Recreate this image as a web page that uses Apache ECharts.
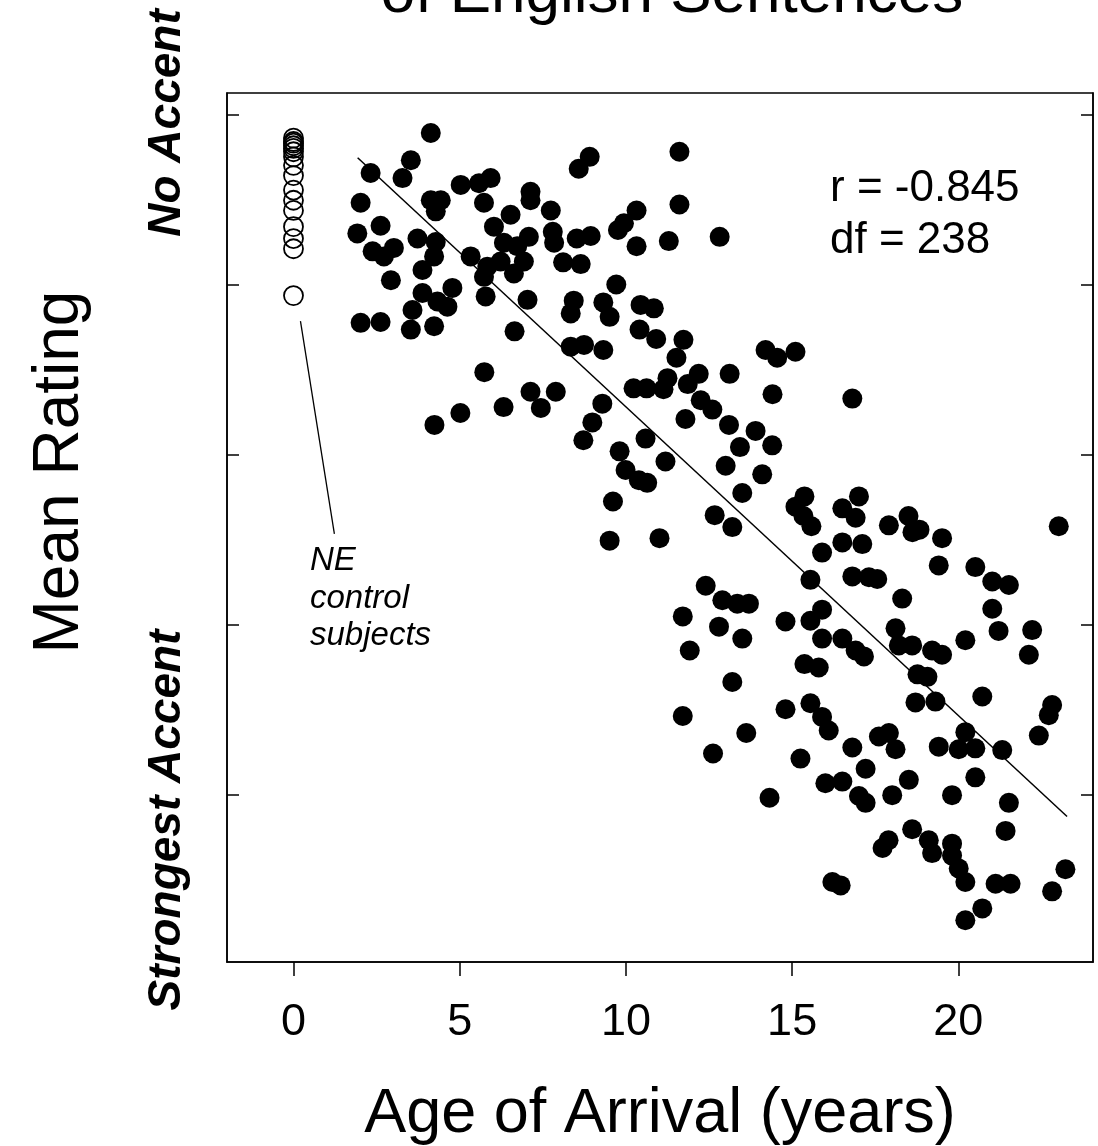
<!DOCTYPE html>
<html>
<head>
<meta charset="utf-8">
<script src="https://cdn.jsdelivr.net/npm/echarts@6/dist/echarts.min.js"></script>
<style>
html,body{margin:0;padding:0;background:#fff;}
#chart{width:1098px;height:1146px;}
</style>
</head>
<body>
<div id="chart"></div>
<script>
// Non-native speakers: age of arrival (years)
const ageNNS = [
4.13,3.53,3.28,2.32,5.03,2.02,4.13,4.43,4.28,2.62,1.92,3.73,4.28,2.38,2.72,3.02,4.23,5.33,3.88,2.93,4.78,3.88,4.33,4.63,3.58,2.02,2.62,3.53,4.23,4.24,5.02,
5.93,5.58,5.73,7.13,7.13,6.53,7.74,6.03,7.80,7.84,7.08,6.33,6.73,6.93,5.83,6.23,6.63,5.73,5.78,7.04,6.65,5.74,6.32,7.13,7.44,7.89,8.11,8.52,
8.91,8.58,11.61,11.61,10.32,9.94,9.76,11.29,12.82,10.32,8.94,8.64,9.71,8.43,8.34,9.32,9.51,10.44,10.84,10.41,10.91,11.73,11.52,8.34,8.74,9.32,
14.20,14.55,15.10,13.12,12.19,11.86,11.25,11.13,10.23,10.62,12.25,12.60,14.41,9.29,8.99,8.72,11.79,10.59,13.10,13.90,13.43,14.40,9.81,11.19,
9.99,10.39,10.64,13.00,14.10,13.50,9.61,15.37,15.10,15.34,15.58,12.67,13.20,9.51,11.01,15.55,12.40,12.90,13.35,13.70,11.71,12.80,14.80,15.55,
13.50,11.92,15.37,15.80,13.20,11.71,13.62,12.62,14.80,15.55,15.25,14.32,16.81,
23.02,17.01,16.51,16.91,17.91,18.50,18.62,18.83,19.51,16.51,17.11,15.90,19.41,20.51,21.02,21.52,16.81,17.31,17.56,18.31,21.02,15.90,18.11,
21.21,22.22,22.12,20.21,15.90,16.51,16.91,17.16,18.21,18.61,19.21,19.51,18.77,19.07,20.72,22.82,22.72,22.42,15.90,16.10,18.71,19.31,16.81,
17.61,17.91,18.11,19.41,20.21,20.01,20.51,21.32,17.21,16.00,16.51,17.01,17.21,18.01,18.51,19.81,20.51,21.52,21.42,18.61,19.11,19.21,19.81,
19.81,17.90,17.72,20.01,20.21,21.12,21.57,16.21,16.46,20.72,20.21,23.22,22.82
];
// Non-native speakers: mean accent rating
const ratingNNS = [
8.78,8.46,8.25,8.31,8.17,7.96,7.99,7.99,7.86,7.69,7.60,7.54,7.50,7.39,7.33,7.43,7.33,7.33,7.17,7.05,6.96,6.90,6.80,6.74,6.70,6.55,6.56,6.47,6.51,5.35,5.49,
8.25,8.19,7.96,8.09,7.99,7.82,7.87,7.68,7.62,7.49,7.56,7.49,7.45,7.27,7.21,7.27,7.13,7.09,6.86,6.82,6.45,5.97,5.56,5.74,5.55,5.74,7.26,7.54,
8.50,8.36,8.56,7.94,7.87,7.72,7.64,7.51,7.56,7.45,7.57,7.24,7.00,6.81,6.66,6.79,6.62,6.76,6.72,6.47,6.36,6.35,6.14,6.27,6.29,6.23,
6.23,6.14,6.21,5.95,5.95,5.83,5.90,5.77,5.78,5.78,5.64,5.53,5.71,5.60,5.38,5.17,5.42,5.19,5.35,5.28,5.09,5.11,5.04,4.92,
4.82,4.70,4.67,4.87,4.77,4.55,4.45,4.51,4.39,4.28,4.16,4.29,4.15,3.99,4.02,3.53,3.46,3.29,3.25,3.25,3.10,2.98,3.04,3.05,
2.84,2.70,2.54,2.50,2.33,1.93,1.73,1.49,2.01,2.08,1.43,0.97,5.66,
4.16,4.51,4.37,4.26,4.17,4.28,4.09,4.12,4.02,3.97,3.95,3.85,3.70,3.68,3.51,3.47,3.57,3.56,3.54,3.31,3.19,3.18,2.96,
2.93,2.94,2.65,2.82,2.84,2.84,2.70,2.63,2.76,2.76,2.70,2.65,2.42,2.39,2.16,2.06,1.94,1.70,1.92,1.76,2.09,2.10,1.56,
1.69,1.73,1.54,1.57,1.74,1.54,1.55,1.53,1.31,1.14,1.16,0.99,0.91,1.00,1.18,1.00,1.21,0.91,0.58,0.60,0.47,0.32,0.43,
0.29,0.47,0.38,0.14,-0.02,-0.04,-0.04,-0.02,-0.06,-0.33,-0.47,0.13,-0.13
];
// Native English (NE) control subjects
const ageNE = [0,0,0,0,0,0,0,0,0,0,0,0,0,0,0,0];
const ratingNE = [8.72,8.68,8.66,8.63,8.60,8.56,8.50,8.40,8.28,8.11,7.99,7.87,7.68,7.54,7.42,6.87];
// Regression line end points
const fitAge = [1.93, 23.27];
const fitRating = [8.49, 0.75];
// Leader line from the controls to their label
const leaderAge = [0.21, 1.23];
const leaderRating = [6.57, 4.07];
// Axis ticks
const xTicks = [0, 5, 10, 15, 20];
const yTicks = [1, 3, 5, 7, 9];

const FONT = "'Liberation Sans', Arial, Helvetica, sans-serif";
const zip = (a, b) => a.map((v, i) => [v, b[i]]);

const chart = echarts.init(document.getElementById('chart'), null, {renderer: 'canvas'});

const yAxisBase = {
  type: 'value', min: -0.96, max: 9.25,
  axisLine: {show: true, onZero: false, lineStyle: {color: '#000', width: 1.5}},
  axisTick: {show: true, inside: true, length: 12, customValues: yTicks, lineStyle: {color: '#000', width: 1.5}},
  axisLabel: {show: false},
  splitLine: {show: false}
};

chart.setOption({
  animation: false,
  backgroundColor: '#fff',
  grid: {left: 227, right: 5, top: 93, bottom: 184, show: true, borderColor: '#000', borderWidth: 1.5,
         containLabel: false, outerBoundsMode: 'none'},
  xAxis: {
    type: 'value', min: -2, max: 24.05,
    axisLine: {show: true, onZero: false, lineStyle: {color: '#000', width: 1.5}},
    axisTick: {show: true, inside: false, length: 14, customValues: xTicks, lineStyle: {color: '#000', width: 1.5}},
    axisLabel: {show: true, customValues: xTicks, color: '#000', fontFamily: FONT, fontSize: 45, margin: 38},
    splitLine: {show: false},
    name: 'Age of Arrival (years)', nameLocation: 'middle', nameGap: 121,
    nameTextStyle: {color: '#000', fontFamily: FONT, fontSize: 63}
  },
  yAxis: [
    Object.assign({position: 'left'}, yAxisBase),
    Object.assign({position: 'right'}, yAxisBase)
  ],
  series: [
    {
      type: 'line', data: zip(fitAge, fitRating), symbol: 'none',
      lineStyle: {color: '#000', width: 1.5}, silent: true, z: 1
    },
    {
      type: 'line', data: zip(leaderAge, leaderRating), symbol: 'none',
      lineStyle: {color: '#000', width: 1.3}, silent: true, z: 1
    },
    {
      type: 'scatter', data: zip(ageNNS, ratingNNS), symbol: 'circle', symbolSize: 20,
      itemStyle: {color: '#000', opacity: 1}, z: 3
    },
    {
      type: 'scatter', data: zip(ageNE, ratingNE), symbol: 'circle', symbolSize: 19,
      itemStyle: {color: 'rgba(255,255,255,0)', borderColor: '#000', borderWidth: 1.8, opacity: 1}, z: 3
    }
  ],
  graphic: [
    {type: 'text', x: 672, y: 26, style: {text: 'of English Sentences', font: '62px ' + FONT, fill: '#000', textAlign: 'center', textVerticalAlign: 'bottom'}},
    {type: 'text', x: 60, y: 472, rotation: Math.PI / 2, style: {text: 'Mean Rating', font: '64px ' + FONT, fill: '#000', textAlign: 'center', textVerticalAlign: 'middle'}},
    {type: 'text', x: 167, y: 123, rotation: Math.PI / 2, style: {text: 'No Accent', font: 'italic bold 46px ' + FONT, fill: '#000', textAlign: 'center', textVerticalAlign: 'middle'}},
    {type: 'text', x: 167, y: 820, rotation: Math.PI / 2, style: {text: 'Strongest Accent', font: 'italic bold 46px ' + FONT, fill: '#000', textAlign: 'center', textVerticalAlign: 'middle'}},
    {type: 'text', x: 830, y: 211, style: {text: 'r = -0.845', font: '44px ' + FONT, fill: '#000', textAlign: 'left', textVerticalAlign: 'bottom'}},
    {type: 'text', x: 830, y: 263, style: {text: 'df = 238', font: '44px ' + FONT, fill: '#000', textAlign: 'left', textVerticalAlign: 'bottom'}},
    {type: 'text', x: 310, y: 577, style: {text: 'NE', font: 'italic 33px ' + FONT, fill: '#000', textAlign: 'left', textVerticalAlign: 'bottom'}},
    {type: 'text', x: 310, y: 615, style: {text: 'control', font: 'italic 33px ' + FONT, fill: '#000', textAlign: 'left', textVerticalAlign: 'bottom'}},
    {type: 'text', x: 310, y: 652, style: {text: 'subjects', font: 'italic 33px ' + FONT, fill: '#000', textAlign: 'left', textVerticalAlign: 'bottom'}}
  ]
});
</script>
</body>
</html>
